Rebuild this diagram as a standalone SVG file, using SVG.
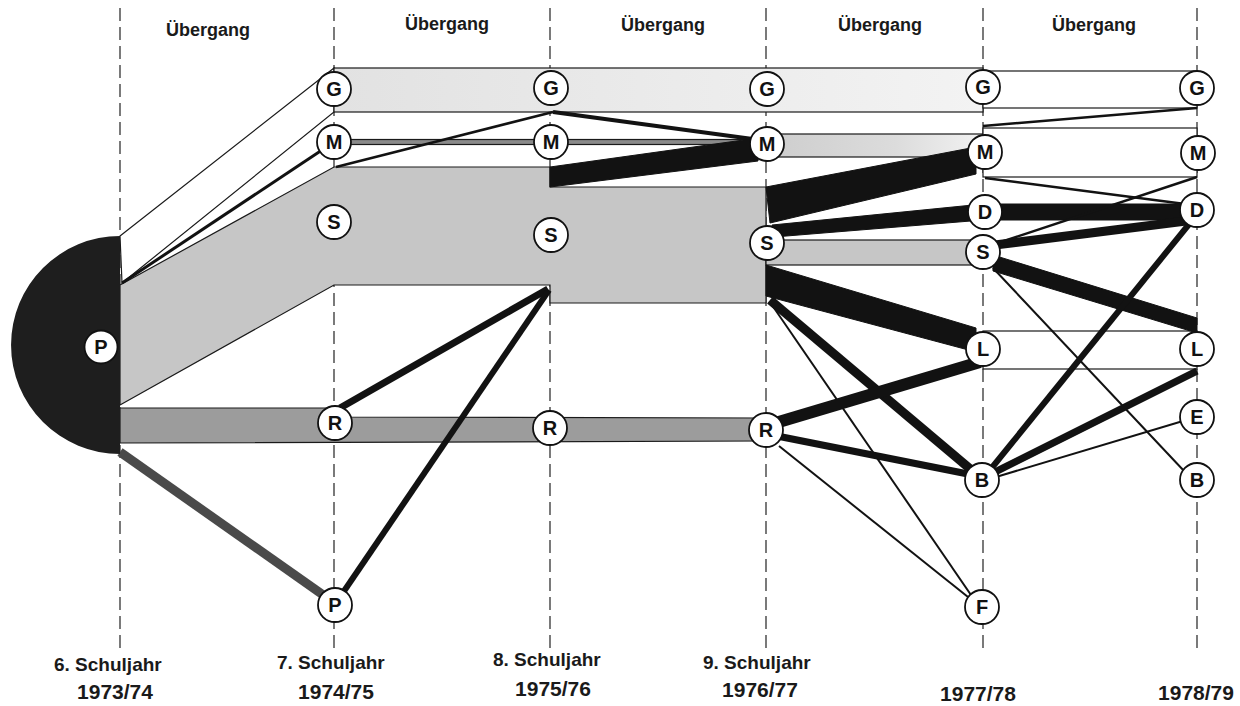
<svg xmlns="http://www.w3.org/2000/svg" width="1240" height="706" viewBox="0 0 1240 706">
<style>
.grid{stroke:#333;stroke-width:1.3;stroke-dasharray:13 6;fill:none}
.band{stroke:#1a1a1a;stroke-width:1.2}
.white{fill:#fff}
.lite{fill:#c6c6c6}
.rb{fill:#9c9c9c}
.blk{fill:#121212;stroke:#121212;stroke-width:1}
.ln{stroke:#121212;fill:none}
.node circle{fill:#fff;stroke:#111;stroke-width:1.8}
.node text{font-family:"Liberation Sans",Arial,sans-serif;font-weight:bold;font-size:20px;fill:#111;text-anchor:middle}
.lbl{font-family:"Liberation Sans",Arial,sans-serif;font-weight:bold;fill:#1a1a1a}
.hd{font-size:18px;text-anchor:middle}
.yr{font-size:21px;text-anchor:middle}
.sj{font-size:19px}
</style>
<defs>
<linearGradient id="gGrad" x1="0" y1="0" x2="1" y2="0">
<stop offset="0" stop-color="#e2e2e2"/><stop offset="1" stop-color="#f3f3f3"/>
</linearGradient>
<linearGradient id="mGrad" x1="0" y1="0" x2="1" y2="0">
<stop offset="0" stop-color="#cdcdcd"/><stop offset="0.6" stop-color="#dcdcdc"/><stop offset="1" stop-color="#f2f2f2"/>
</linearGradient>
</defs>
<rect width="1240" height="706" fill="#fff"/>
<g id="grid">
<line class="grid" x1="120" y1="8" x2="120" y2="652"/>
<line class="grid" x1="334" y1="8" x2="334" y2="652"/>
<line class="grid" x1="550" y1="8" x2="550" y2="652"/>
<line class="grid" x1="766" y1="8" x2="766" y2="652"/>
<line class="grid" x1="983" y1="8" x2="983" y2="652"/>
<line class="grid" x1="1197" y1="8" x2="1197" y2="652"/>
</g>
<g id="connectors">
<polygon class="band white" points="120,236 334,68 334,112 122,283"/>
<rect class="band" x="334" y="68" width="649" height="44" fill="url(#gGrad)"/>
<rect class="band white" x="983" y="71" width="214" height="37"/>
<polygon class="band lite" points="120,285 334,167 550,167 550,187 766,187 766,303 550,303 550,285 334,285 120,405"/>
<polygon class="band rb" points="120,408 334,408 334,417 766,418 766,441 120,443"/>
<rect class="band" x="334" y="139.5" width="432" height="5" fill="#8a8a8a"/>
<rect class="band" x="766" y="134" width="217" height="23" fill="url(#mGrad)"/>
<rect class="band lite" x="766" y="240" width="217" height="25"/>
<rect class="band white" x="983" y="128" width="214" height="49"/>
<rect class="band white" x="983" y="331" width="214" height="38"/>
<line class="ln" x1="122" y1="283" x2="322" y2="150" stroke-width="3"/>
<line x1="120" y1="452" x2="326" y2="597" stroke="#4a4a4a" stroke-width="9"/>
<line class="ln" x1="336" y1="167" x2="553" y2="112" stroke-width="2.5"/>
<line class="ln" x1="553" y1="112" x2="760" y2="140" stroke-width="4"/>
<polygon class="blk" points="550,167 758,138 758,161 550,187"/>
<line class="ln" x1="340" y1="408" x2="548" y2="289" stroke-width="7"/>
<line class="ln" x1="340" y1="597" x2="549" y2="290" stroke-width="6"/>
<polygon class="blk" points="766,187 976,147 976,174 770,223"/>
<polygon class="blk" points="772,225 983,204 983,220 774,237"/>
<polygon class="blk" points="766,265 976,328 976,352 766,296"/>
<line class="ln" x1="770" y1="300" x2="975" y2="473" stroke-width="9"/>
<line class="ln" x1="772" y1="305" x2="971" y2="595" stroke-width="2"/>
<line class="ln" x1="772" y1="424" x2="980" y2="362" stroke-width="12"/>
<line class="ln" x1="777" y1="436" x2="968" y2="474" stroke-width="7"/>
<line class="ln" x1="779" y1="446" x2="968" y2="597" stroke-width="2"/>
<line class="ln" x1="983" y1="126" x2="1197" y2="108" stroke-width="2.5"/>
<line class="ln" x1="985" y1="178" x2="1185" y2="204" stroke-width="2.5"/>
<rect class="blk" x="983" y="204" width="214" height="16"/>
<line class="ln" x1="998" y1="243" x2="1197" y2="177" stroke-width="2.5"/>
<line class="ln" x1="995" y1="245" x2="1186" y2="221" stroke-width="9"/>
<polygon class="blk" points="993,255 1197,318 1197,333 993,271"/>
<line class="ln" x1="993" y1="268" x2="1185" y2="472" stroke-width="2"/>
<line class="ln" x1="990" y1="470" x2="1190" y2="223" stroke-width="6"/>
<line class="ln" x1="993" y1="473" x2="1197" y2="371" stroke-width="7"/>
<line class="ln" x1="996" y1="477" x2="1183" y2="421" stroke-width="2"/>
</g>
<g id="node-P0"><path d="M120,236 A109,109 0 0 0 120,454 Z" fill="#1e1e1e"/><g class="node"><circle cx="101" cy="347" r="16.5"/><text x="101" y="354">P</text></g></g>
<g id="node-G1" class="node"><circle cx="334" cy="89" r="17"/><text x="334" y="96">G</text></g>
<g id="node-M1" class="node"><circle cx="334" cy="142" r="17"/><text x="334" y="149">M</text></g>
<g id="node-S1" class="node"><circle cx="334" cy="222" r="17"/><text x="334" y="229">S</text></g>
<g id="node-R1" class="node"><circle cx="335" cy="423" r="17"/><text x="335" y="430">R</text></g>
<g id="node-P1" class="node"><circle cx="335" cy="605" r="17"/><text x="335" y="612">P</text></g>
<g id="node-G2" class="node"><circle cx="551" cy="88" r="17"/><text x="551" y="95">G</text></g>
<g id="node-M2" class="node"><circle cx="551" cy="142" r="17"/><text x="551" y="149">M</text></g>
<g id="node-S2" class="node"><circle cx="551" cy="235" r="17"/><text x="551" y="242">S</text></g>
<g id="node-R2" class="node"><circle cx="550" cy="428" r="17"/><text x="550" y="435">R</text></g>
<g id="node-G3" class="node"><circle cx="767" cy="89" r="17"/><text x="767" y="96">G</text></g>
<g id="node-M3" class="node"><circle cx="767" cy="144" r="17"/><text x="767" y="151">M</text></g>
<g id="node-S3" class="node"><circle cx="767" cy="243" r="17"/><text x="767" y="250">S</text></g>
<g id="node-R3" class="node"><circle cx="766" cy="430" r="17"/><text x="766" y="437">R</text></g>
<g id="node-G4" class="node"><circle cx="983" cy="87" r="17"/><text x="983" y="94">G</text></g>
<g id="node-M4" class="node"><circle cx="985" cy="152" r="17"/><text x="985" y="159">M</text></g>
<g id="node-D4" class="node"><circle cx="985" cy="212" r="17"/><text x="985" y="219">D</text></g>
<g id="node-S4" class="node"><circle cx="983" cy="252" r="17"/><text x="983" y="259">S</text></g>
<g id="node-L4" class="node"><circle cx="983" cy="349" r="17"/><text x="983" y="356">L</text></g>
<g id="node-B4" class="node"><circle cx="982" cy="480" r="17"/><text x="982" y="487">B</text></g>
<g id="node-F4" class="node"><circle cx="982" cy="607" r="17"/><text x="982" y="614">F</text></g>
<g id="node-G5" class="node"><circle cx="1197" cy="88" r="17"/><text x="1197" y="95">G</text></g>
<g id="node-M5" class="node"><circle cx="1198" cy="153" r="17"/><text x="1198" y="160">M</text></g>
<g id="node-D5" class="node"><circle cx="1197" cy="210" r="17"/><text x="1197" y="217">D</text></g>
<g id="node-L5" class="node"><circle cx="1197" cy="349" r="17"/><text x="1197" y="356">L</text></g>
<g id="node-E5" class="node"><circle cx="1197" cy="417" r="17"/><text x="1197" y="424">E</text></g>
<g id="node-B5" class="node"><circle cx="1197" cy="480" r="17"/><text x="1197" y="487">B</text></g>
<g id="labels" class="lbl">
<text class="hd" x="208" y="36">Übergang</text>
<text class="hd" x="447" y="30">Übergang</text>
<text class="hd" x="663" y="31">Übergang</text>
<text class="hd" x="880" y="31">Übergang</text>
<text class="hd" x="1094" y="31">Übergang</text>
<text class="sj" x="54" y="671">6. Schuljahr</text>
<text class="sj" x="277" y="669">7. Schuljahr</text>
<text class="sj" x="493" y="666">8. Schuljahr</text>
<text class="sj" x="703" y="669">9. Schuljahr</text>
<text class="yr" x="115" y="699">1973/74</text>
<text class="yr" x="336" y="699">1974/75</text>
<text class="yr" x="553" y="696">1975/76</text>
<text class="yr" x="760" y="697">1976/77</text>
<text class="yr" x="978" y="701">1977/78</text>
<text class="yr" x="1196" y="700">1978/79</text>
</g>
</svg>
